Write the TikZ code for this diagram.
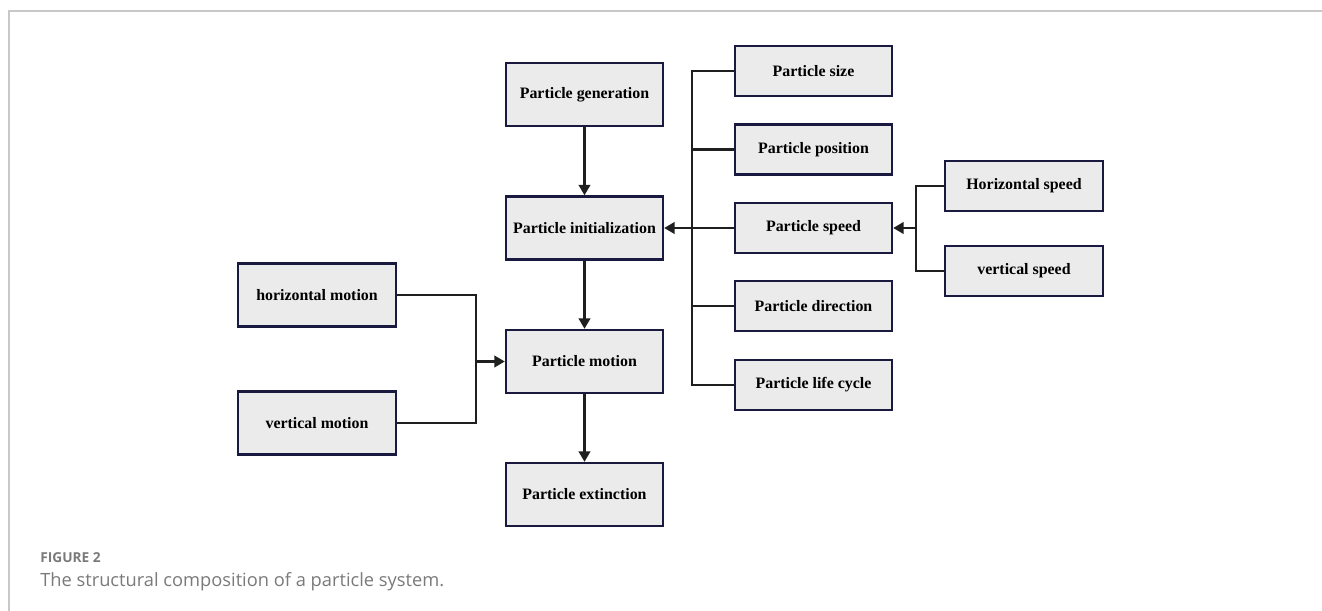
\documentclass[tikz,border=0pt]{standalone}
\usepackage{fontspec}
\setmainfont{Liberation Serif}
\newfontfamily\capfont{Open Sans}
\usetikzlibrary{arrows.meta}
\definecolor{boxfill}{HTML}{EBEBEB}
\definecolor{boxline}{HTML}{1A1A40}
\definecolor{framegray}{HTML}{C8C8C8}
\definecolor{capgray}{HTML}{7A7A7A}
\begin{document}
\begin{tikzpicture}[x=0.02cm,y=-0.02cm,
  blk/.style={draw=boxline,fill=boxfill,line width=1.3pt,minimum width=157*0.02cm,
    minimum height=63*0.02cm,inner sep=0pt,font=\fontsize{9.05}{10}\selectfont\bfseries},
  sblk/.style={blk,minimum height=50*0.02cm},
  link/.style={line width=1.5pt,draw=black!88},
  arr/.style={link,-{Triangle[length=6pt,width=6.5pt]}}]
\useasboundingbox (0,0) rectangle (1322,611);
% page frame
\draw[framegray,line width=0.9pt] (1322,11) -- (9,11) -- (9,611);
% main column
\node[blk] (gen) at (584.5,94.5) {Particle generation};
\node[blk] (init) at (584.5,228) {Particle initialization};
\node[blk] (mot) at (584.5,361.5) {Particle motion};
\node[blk] (ext) at (584.5,494.5) {Particle extinction};
% motion components
\node[blk,minimum width=158*0.02cm] (hm) at (317,295) {horizontal motion};
\node[blk,minimum width=158*0.02cm] (vm) at (317,423) {vertical motion};
% initial attributes
\node[sblk] (size) at (813.5,71) {Particle size};
\node[sblk] (pos) at (813.5,149.5) {Particle position};
\node[sblk] (spd) at (813.5,228) {Particle speed};
\node[sblk] (dir) at (813.5,306) {Particle direction};
\node[sblk] (life) at (813.5,385) {Particle life cycle};
% speed components
\node[sblk,minimum width=158*0.02cm] (hs) at (1024,186) {Horizontal speed};
\node[sblk,minimum width=158*0.02cm] (vs) at (1024,271) {vertical speed};
% flow
\draw[arr] (gen) -- (init);
\draw[arr] (init) -- (mot);
\draw[arr] (mot) -- (ext);
% attribute bus
\coordinate (ab) at (692,228);
\draw[link] (size.west) -- (size.west -| ab) -- (life.west -| ab) -- (life.west);
\draw[link] (pos.west) -- (pos.west -| ab);
\draw[link] (dir.west) -- (dir.west -| ab);
\draw[arr] (spd.west) -- (init.east);
% speed bus
\coordinate (sb) at (916,228);
\draw[link] (hs.west) -- (hs.west -| sb) -- (vs.west -| sb) -- (vs.west);
\draw[arr] (sb) -- (spd.east);
% motion bus
\coordinate (mb) at (476,361.5);
\draw[link] (hm.east) -- (hm.east -| mb) -- (vm.east -| mb) -- (vm.east);
\draw[arr] (mb) -- (mot.west);
% caption
\node[anchor=base west,inner sep=0pt,text=capgray,font=\capfont\bfseries\fontsize{7.8}{9}\selectfont] (fig) at (40,562) {FIGURE 2};
\node[anchor=base west,inner sep=0pt,text=capgray,font=\capfont\fontsize{10.4}{12}\selectfont] (cap) at (40,586) {The structural composition of a particle system.};
\end{tikzpicture}
\end{document}
